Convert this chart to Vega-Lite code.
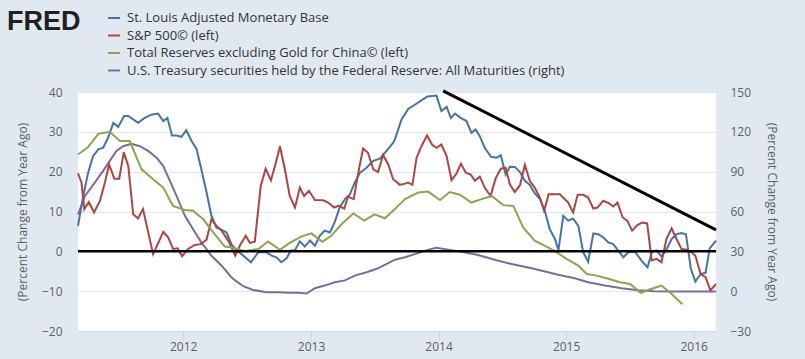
{
  "$schema": "https://vega.github.io/schema/vega-lite/v6.json",
  "width": 638,
  "height": 239,
  "autosize": "none",
  "padding": {"left": 78, "top": 92, "right": 89, "bottom": 28},
  "background": "#e1e9f0",
  "config": {
    "view": {"fill": "#ffffff", "stroke": null},
    "font": "Open Sans"
  },
  "title": {
    "text": "FRED",
    "anchor": "start",
    "frame": "group",
    "font": "Liberation Sans",
    "fontSize": 27,
    "fontWeight": 900,
    "color": "#231f20",
    "dx": -71,
    "offset": -25
  },
  "data": {
    "values": [
      {"date": "2011-03-06", "series": "base", "value": 6.4},
      {"date": "2011-03-21", "series": "base", "value": 13.9},
      {"date": "2011-04-04", "series": "base", "value": 19.75},
      {"date": "2011-04-18", "series": "base", "value": 23.9},
      {"date": "2011-05-03", "series": "base", "value": 25.6},
      {"date": "2011-05-17", "series": "base", "value": 26},
      {"date": "2011-05-31", "series": "base", "value": 28.5},
      {"date": "2011-06-15", "series": "base", "value": 32.25},
      {"date": "2011-06-29", "series": "base", "value": 31.25},
      {"date": "2011-07-16", "series": "base", "value": 34},
      {"date": "2011-07-28", "series": "base", "value": 34},
      {"date": "2011-08-25", "series": "base", "value": 32.25},
      {"date": "2011-09-13", "series": "base", "value": 33.5},
      {"date": "2011-10-02", "series": "base", "value": 34.3},
      {"date": "2011-10-21", "series": "base", "value": 34.6},
      {"date": "2011-11-05", "series": "base", "value": 32.7},
      {"date": "2011-11-17", "series": "base", "value": 33.5},
      {"date": "2011-11-30", "series": "base", "value": 29.1},
      {"date": "2011-12-13", "series": "base", "value": 29.1},
      {"date": "2011-12-27", "series": "base", "value": 28.75},
      {"date": "2012-01-10", "series": "base", "value": 30.4},
      {"date": "2012-01-25", "series": "base", "value": 27.7},
      {"date": "2012-02-08", "series": "base", "value": 25.75},
      {"date": "2012-02-22", "series": "base", "value": 20.6},
      {"date": "2012-03-08", "series": "base", "value": 14.75},
      {"date": "2012-03-22", "series": "base", "value": 8.9},
      {"date": "2012-04-05", "series": "base", "value": 6},
      {"date": "2012-04-20", "series": "base", "value": 5.4},
      {"date": "2012-05-04", "series": "base", "value": 4.75},
      {"date": "2012-05-18", "series": "base", "value": 1.8},
      {"date": "2012-05-29", "series": "base", "value": 0.6},
      {"date": "2012-06-16", "series": "base", "value": -0.7},
      {"date": "2012-07-13", "series": "base", "value": -2.75},
      {"date": "2012-08-03", "series": "base", "value": -0.25},
      {"date": "2012-08-27", "series": "base", "value": -0.25},
      {"date": "2012-09-10", "series": "base", "value": -1.1},
      {"date": "2012-09-24", "series": "base", "value": -1.5},
      {"date": "2012-10-08", "series": "base", "value": -2.75},
      {"date": "2012-10-23", "series": "base", "value": -1.75},
      {"date": "2012-11-04", "series": "base", "value": 0.2},
      {"date": "2012-11-16", "series": "base", "value": 0.3},
      {"date": "2012-11-30", "series": "base", "value": 2.5},
      {"date": "2012-12-14", "series": "base", "value": 1.2},
      {"date": "2012-12-29", "series": "base", "value": 2.7},
      {"date": "2013-01-12", "series": "base", "value": 1.4},
      {"date": "2013-01-26", "series": "base", "value": 3.9},
      {"date": "2013-02-09", "series": "base", "value": 5.2},
      {"date": "2013-02-24", "series": "base", "value": 4.75},
      {"date": "2013-03-10", "series": "base", "value": 7.4},
      {"date": "2013-03-24", "series": "base", "value": 11},
      {"date": "2013-04-08", "series": "base", "value": 13.1},
      {"date": "2013-04-22", "series": "base", "value": 14.3},
      {"date": "2013-05-06", "series": "base", "value": 17.25},
      {"date": "2013-05-21", "series": "base", "value": 19.75},
      {"date": "2013-06-09", "series": "base", "value": 21},
      {"date": "2013-06-28", "series": "base", "value": 22.7},
      {"date": "2013-07-17", "series": "base", "value": 23.25},
      {"date": "2013-08-05", "series": "base", "value": 25.2},
      {"date": "2013-08-24", "series": "base", "value": 27.25},
      {"date": "2013-08-29", "series": "base", "value": 28.1},
      {"date": "2013-09-17", "series": "base", "value": 33.1},
      {"date": "2013-10-06", "series": "base", "value": 35.75},
      {"date": "2013-10-25", "series": "base", "value": 36.8},
      {"date": "2013-11-13", "series": "base", "value": 37.9},
      {"date": "2013-11-30", "series": "base", "value": 38.9},
      {"date": "2013-12-26", "series": "base", "value": 39.1},
      {"date": "2014-01-09", "series": "base", "value": 35.2},
      {"date": "2014-01-24", "series": "base", "value": 36.25},
      {"date": "2014-02-05", "series": "base", "value": 33.5},
      {"date": "2014-02-17", "series": "base", "value": 34.6},
      {"date": "2014-03-05", "series": "base", "value": 33.5},
      {"date": "2014-03-22", "series": "base", "value": 32.7},
      {"date": "2014-04-05", "series": "base", "value": 29.75},
      {"date": "2014-04-17", "series": "base", "value": 30.6},
      {"date": "2014-04-29", "series": "base", "value": 28.9},
      {"date": "2014-05-13", "series": "base", "value": 26},
      {"date": "2014-05-31", "series": "base", "value": 23.75},
      {"date": "2014-06-16", "series": "base", "value": 23.5},
      {"date": "2014-06-28", "series": "base", "value": 24.1},
      {"date": "2014-07-12", "series": "base", "value": 19.3},
      {"date": "2014-07-24", "series": "base", "value": 21.25},
      {"date": "2014-08-07", "series": "base", "value": 21.2},
      {"date": "2014-08-22", "series": "base", "value": 19.9},
      {"date": "2014-09-05", "series": "base", "value": 17.7},
      {"date": "2014-09-19", "series": "base", "value": 16.7},
      {"date": "2014-10-03", "series": "base", "value": 14.6},
      {"date": "2014-10-18", "series": "base", "value": 13.1},
      {"date": "2014-11-01", "series": "base", "value": 10.2},
      {"date": "2014-11-15", "series": "base", "value": 5.6},
      {"date": "2014-11-30", "series": "base", "value": 3.1},
      {"date": "2014-12-10", "series": "base", "value": 0.3},
      {"date": "2014-12-24", "series": "base", "value": 8.9},
      {"date": "2015-01-07", "series": "base", "value": 7.7},
      {"date": "2015-01-21", "series": "base", "value": 8.25},
      {"date": "2015-02-05", "series": "base", "value": 6.4},
      {"date": "2015-02-19", "series": "base", "value": -0.25},
      {"date": "2015-03-05", "series": "base", "value": -2.6},
      {"date": "2015-03-20", "series": "base", "value": 4.5},
      {"date": "2015-04-03", "series": "base", "value": 4.3},
      {"date": "2015-04-17", "series": "base", "value": 3.5},
      {"date": "2015-05-02", "series": "base", "value": 2.25},
      {"date": "2015-05-16", "series": "base", "value": 1.8},
      {"date": "2015-05-30", "series": "base", "value": 0.2},
      {"date": "2015-06-14", "series": "base", "value": -1.5},
      {"date": "2015-06-28", "series": "base", "value": -0.25},
      {"date": "2015-07-17", "series": "base", "value": -0.1},
      {"date": "2015-08-07", "series": "base", "value": -2.6},
      {"date": "2015-08-22", "series": "base", "value": -4},
      {"date": "2015-09-04", "series": "base", "value": -0.1},
      {"date": "2015-09-17", "series": "base", "value": 0.25},
      {"date": "2015-10-01", "series": "base", "value": -1.3},
      {"date": "2015-10-14", "series": "base", "value": 0.3},
      {"date": "2015-10-30", "series": "base", "value": 3.1},
      {"date": "2015-11-13", "series": "base", "value": 4.3},
      {"date": "2015-11-27", "series": "base", "value": 4.6},
      {"date": "2015-12-10", "series": "base", "value": 4.3},
      {"date": "2015-12-24", "series": "base", "value": -4.4},
      {"date": "2016-01-06", "series": "base", "value": -7.6},
      {"date": "2016-01-21", "series": "base", "value": -5.7},
      {"date": "2016-02-04", "series": "base", "value": -5.4},
      {"date": "2016-02-16", "series": "base", "value": 0.75},
      {"date": "2016-03-05", "series": "base", "value": 2.7},

      {"date": "2011-03-06", "series": "sp500", "value": 19.6},
      {"date": "2011-03-16", "series": "sp500", "value": 17.25},
      {"date": "2011-03-24", "series": "sp500", "value": 10.6},
      {"date": "2011-04-06", "series": "sp500", "value": 12.4},
      {"date": "2011-04-21", "series": "sp500", "value": 9.75},
      {"date": "2011-05-08", "series": "sp500", "value": 12.7},
      {"date": "2011-05-22", "series": "sp500", "value": 17.25},
      {"date": "2011-06-03", "series": "sp500", "value": 21.8},
      {"date": "2011-06-18", "series": "sp500", "value": 18.25},
      {"date": "2011-07-02", "series": "sp500", "value": 18.25},
      {"date": "2011-07-15", "series": "sp500", "value": 24.9},
      {"date": "2011-07-28", "series": "sp500", "value": 21.4},
      {"date": "2011-08-11", "series": "sp500", "value": 9.3},
      {"date": "2011-08-25", "series": "sp500", "value": 8.25},
      {"date": "2011-09-08", "series": "sp500", "value": 10.6},
      {"date": "2011-10-07", "series": "sp500", "value": -0.7},
      {"date": "2011-11-05", "series": "sp500", "value": 4.9},
      {"date": "2011-11-19", "series": "sp500", "value": 3.5},
      {"date": "2011-12-03", "series": "sp500", "value": 0.6},
      {"date": "2011-12-16", "series": "sp500", "value": 0.75},
      {"date": "2011-12-29", "series": "sp500", "value": -1.25},
      {"date": "2012-01-15", "series": "sp500", "value": 0.6},
      {"date": "2012-02-03", "series": "sp500", "value": 1.6},
      {"date": "2012-02-20", "series": "sp500", "value": 1.8},
      {"date": "2012-03-08", "series": "sp500", "value": 2.9},
      {"date": "2012-03-22", "series": "sp500", "value": 8.1},
      {"date": "2012-04-05", "series": "sp500", "value": 6.4},
      {"date": "2012-04-20", "series": "sp500", "value": 5.2},
      {"date": "2012-05-09", "series": "sp500", "value": 2.7},
      {"date": "2012-05-29", "series": "sp500", "value": -1.1},
      {"date": "2012-06-11", "series": "sp500", "value": 1.4},
      {"date": "2012-06-28", "series": "sp500", "value": 3.9},
      {"date": "2012-07-10", "series": "sp500", "value": 2.1},
      {"date": "2012-07-24", "series": "sp500", "value": 2.4},
      {"date": "2012-08-10", "series": "sp500", "value": 16.4},
      {"date": "2012-08-24", "series": "sp500", "value": 20.75},
      {"date": "2012-09-08", "series": "sp500", "value": 17.8},
      {"date": "2012-09-21", "series": "sp500", "value": 21.8},
      {"date": "2012-10-04", "series": "sp500", "value": 26.4},
      {"date": "2012-10-18", "series": "sp500", "value": 20.6},
      {"date": "2012-11-01", "series": "sp500", "value": 13.9},
      {"date": "2012-11-16", "series": "sp500", "value": 11},
      {"date": "2012-11-30", "series": "sp500", "value": 16},
      {"date": "2012-12-12", "series": "sp500", "value": 13.9},
      {"date": "2012-12-26", "series": "sp500", "value": 15.2},
      {"date": "2013-01-12", "series": "sp500", "value": 12.9},
      {"date": "2013-02-05", "series": "sp500", "value": 12.8},
      {"date": "2013-02-19", "series": "sp500", "value": 12.25},
      {"date": "2013-03-08", "series": "sp500", "value": 11},
      {"date": "2013-03-21", "series": "sp500", "value": 11.4},
      {"date": "2013-04-06", "series": "sp500", "value": 10.75},
      {"date": "2013-04-17", "series": "sp500", "value": 13.75},
      {"date": "2013-05-03", "series": "sp500", "value": 13.1},
      {"date": "2013-05-18", "series": "sp500", "value": 20.6},
      {"date": "2013-05-30", "series": "sp500", "value": 25.8},
      {"date": "2013-06-13", "series": "sp500", "value": 24.75},
      {"date": "2013-06-28", "series": "sp500", "value": 20.6},
      {"date": "2013-07-12", "series": "sp500", "value": 19.9},
      {"date": "2013-07-26", "series": "sp500", "value": 24.2},
      {"date": "2013-08-10", "series": "sp500", "value": 21.8},
      {"date": "2013-08-24", "series": "sp500", "value": 18.1},
      {"date": "2013-08-29", "series": "sp500", "value": 17.8},
      {"date": "2013-09-12", "series": "sp500", "value": 16.7},
      {"date": "2013-09-27", "series": "sp500", "value": 17},
      {"date": "2013-10-06", "series": "sp500", "value": 17.25},
      {"date": "2013-10-18", "series": "sp500", "value": 16.7},
      {"date": "2013-10-30", "series": "sp500", "value": 23.5},
      {"date": "2013-11-13", "series": "sp500", "value": 26.4},
      {"date": "2013-11-29", "series": "sp500", "value": 29.1},
      {"date": "2013-12-14", "series": "sp500", "value": 26.7},
      {"date": "2013-12-26", "series": "sp500", "value": 26},
      {"date": "2014-01-09", "series": "sp500", "value": 26.8},
      {"date": "2014-01-24", "series": "sp500", "value": 23.9},
      {"date": "2014-02-07", "series": "sp500", "value": 17.9},
      {"date": "2014-02-21", "series": "sp500", "value": 19.5},
      {"date": "2014-03-06", "series": "sp500", "value": 22},
      {"date": "2014-03-20", "series": "sp500", "value": 19.75},
      {"date": "2014-04-03", "series": "sp500", "value": 19.3},
      {"date": "2014-04-15", "series": "sp500", "value": 17.7},
      {"date": "2014-04-29", "series": "sp500", "value": 18.75},
      {"date": "2014-05-13", "series": "sp500", "value": 16},
      {"date": "2014-05-30", "series": "sp500", "value": 13.9},
      {"date": "2014-06-13", "series": "sp500", "value": 18.25},
      {"date": "2014-06-28", "series": "sp500", "value": 20.75},
      {"date": "2014-07-12", "series": "sp500", "value": 21},
      {"date": "2014-07-24", "series": "sp500", "value": 16.8},
      {"date": "2014-08-07", "series": "sp500", "value": 14.9},
      {"date": "2014-08-22", "series": "sp500", "value": 16.6},
      {"date": "2014-09-05", "series": "sp500", "value": 21.7},
      {"date": "2014-09-19", "series": "sp500", "value": 17.7},
      {"date": "2014-10-03", "series": "sp500", "value": 16},
      {"date": "2014-10-18", "series": "sp500", "value": 13.5},
      {"date": "2014-10-30", "series": "sp500", "value": 10.2},
      {"date": "2014-11-12", "series": "sp500", "value": 14.3},
      {"date": "2014-11-28", "series": "sp500", "value": 14.3},
      {"date": "2014-12-14", "series": "sp500", "value": 14.3},
      {"date": "2015-01-07", "series": "sp500", "value": 12.25},
      {"date": "2015-01-21", "series": "sp500", "value": 9.75},
      {"date": "2015-02-03", "series": "sp500", "value": 14.2},
      {"date": "2015-02-19", "series": "sp500", "value": 14.2},
      {"date": "2015-03-05", "series": "sp500", "value": 13.5},
      {"date": "2015-03-20", "series": "sp500", "value": 10.75},
      {"date": "2015-04-01", "series": "sp500", "value": 11},
      {"date": "2015-04-17", "series": "sp500", "value": 12.7},
      {"date": "2015-05-03", "series": "sp500", "value": 12.1},
      {"date": "2015-05-16", "series": "sp500", "value": 11.25},
      {"date": "2015-05-28", "series": "sp500", "value": 12.25},
      {"date": "2015-06-12", "series": "sp500", "value": 8.5},
      {"date": "2015-06-25", "series": "sp500", "value": 7.7},
      {"date": "2015-07-09", "series": "sp500", "value": 5.2},
      {"date": "2015-07-24", "series": "sp500", "value": 6.6},
      {"date": "2015-08-07", "series": "sp500", "value": 7.25},
      {"date": "2015-08-21", "series": "sp500", "value": 7},
      {"date": "2015-09-03", "series": "sp500", "value": -2.3},
      {"date": "2015-09-17", "series": "sp500", "value": -1.9},
      {"date": "2015-10-01", "series": "sp500", "value": -2.75},
      {"date": "2015-10-15", "series": "sp500", "value": 3.1},
      {"date": "2015-10-30", "series": "sp500", "value": 5.75},
      {"date": "2015-11-13", "series": "sp500", "value": 3.1},
      {"date": "2015-11-27", "series": "sp500", "value": 0.6},
      {"date": "2015-12-12", "series": "sp500", "value": 0.4},
      {"date": "2015-12-26", "series": "sp500", "value": -0.25},
      {"date": "2016-01-06", "series": "sp500", "value": -1.1},
      {"date": "2016-01-21", "series": "sp500", "value": -5.7},
      {"date": "2016-02-04", "series": "sp500", "value": -6.5},
      {"date": "2016-02-18", "series": "sp500", "value": -9.8},
      {"date": "2016-03-05", "series": "sp500", "value": -8.2},

      {"date": "2011-03-06", "series": "china", "value": 24.3},
      {"date": "2011-04-04", "series": "china", "value": 26.2},
      {"date": "2011-05-03", "series": "china", "value": 29.5},
      {"date": "2011-06-05", "series": "china", "value": 30},
      {"date": "2011-07-04", "series": "china", "value": 27.7},
      {"date": "2011-08-01", "series": "china", "value": 27.7},
      {"date": "2011-09-04", "series": "china", "value": 20.6},
      {"date": "2011-10-07", "series": "china", "value": 18.1},
      {"date": "2011-11-05", "series": "china", "value": 16},
      {"date": "2011-12-03", "series": "china", "value": 11.4},
      {"date": "2012-01-06", "series": "china", "value": 10.4},
      {"date": "2012-01-29", "series": "china", "value": 10.2},
      {"date": "2012-02-27", "series": "china", "value": 8.1},
      {"date": "2012-03-27", "series": "china", "value": 4.75},
      {"date": "2012-04-29", "series": "china", "value": 1.2},
      {"date": "2012-05-18", "series": "china", "value": 1},
      {"date": "2012-06-26", "series": "china", "value": 0},
      {"date": "2012-08-03", "series": "china", "value": 0.6},
      {"date": "2012-08-31", "series": "china", "value": 2.5},
      {"date": "2012-10-04", "series": "china", "value": 0.4},
      {"date": "2012-11-01", "series": "china", "value": 2.1},
      {"date": "2012-12-05", "series": "china", "value": 3.75},
      {"date": "2013-01-02", "series": "china", "value": 4.5},
      {"date": "2013-02-02", "series": "china", "value": 2.4},
      {"date": "2013-02-28", "series": "china", "value": 3.9},
      {"date": "2013-03-29", "series": "china", "value": 6.8},
      {"date": "2013-05-02", "series": "china", "value": 9.5},
      {"date": "2013-06-02", "series": "china", "value": 7.7},
      {"date": "2013-07-02", "series": "china", "value": 9.3},
      {"date": "2013-07-31", "series": "china", "value": 8.3},
      {"date": "2013-08-29", "series": "china", "value": 10.6},
      {"date": "2013-09-27", "series": "china", "value": 13.1},
      {"date": "2013-11-04", "series": "china", "value": 14.75},
      {"date": "2013-12-02", "series": "china", "value": 15},
      {"date": "2014-01-05", "series": "china", "value": 12.9},
      {"date": "2014-02-02", "series": "china", "value": 14.9},
      {"date": "2014-03-03", "series": "china", "value": 14.2},
      {"date": "2014-04-05", "series": "china", "value": 12.25},
      {"date": "2014-05-04", "series": "china", "value": 13.1},
      {"date": "2014-06-02", "series": "china", "value": 13.9},
      {"date": "2014-07-05", "series": "china", "value": 11.6},
      {"date": "2014-08-03", "series": "china", "value": 11.4},
      {"date": "2014-08-31", "series": "china", "value": 6},
      {"date": "2014-10-03", "series": "china", "value": 2.7},
      {"date": "2014-11-06", "series": "china", "value": 1.2},
      {"date": "2014-12-01", "series": "china", "value": 0},
      {"date": "2015-01-02", "series": "china", "value": -1.9},
      {"date": "2015-02-05", "series": "china", "value": -3.6},
      {"date": "2015-03-01", "series": "china", "value": -5.7},
      {"date": "2015-03-29", "series": "china", "value": -6.1},
      {"date": "2015-05-02", "series": "china", "value": -6.9},
      {"date": "2015-06-04", "series": "china", "value": -7.75},
      {"date": "2015-07-03", "series": "china", "value": -8.2},
      {"date": "2015-08-03", "series": "china", "value": -10.4},
      {"date": "2015-09-03", "series": "china", "value": -9.4},
      {"date": "2015-10-01", "series": "china", "value": -8.6},
      {"date": "2015-10-30", "series": "china", "value": -10.7},
      {"date": "2015-11-30", "series": "china", "value": -13.3},

      {"date": "2011-03-06", "series": "treasury", "value": 57.9},
      {"date": "2011-03-26", "series": "treasury", "value": 71.7},
      {"date": "2011-04-23", "series": "treasury", "value": 81.75},
      {"date": "2011-05-17", "series": "treasury", "value": 90.6},
      {"date": "2011-06-05", "series": "treasury", "value": 98.1},
      {"date": "2011-06-24", "series": "treasury", "value": 105.6},
      {"date": "2011-07-13", "series": "treasury", "value": 109.2},
      {"date": "2011-08-06", "series": "treasury", "value": 111},
      {"date": "2011-08-30", "series": "treasury", "value": 109.2},
      {"date": "2011-09-23", "series": "treasury", "value": 105.6},
      {"date": "2011-10-17", "series": "treasury", "value": 100.5},
      {"date": "2011-11-05", "series": "treasury", "value": 94.2},
      {"date": "2011-11-24", "series": "treasury", "value": 83.1},
      {"date": "2011-12-13", "series": "treasury", "value": 71.7},
      {"date": "2012-01-06", "series": "treasury", "value": 56.7},
      {"date": "2012-01-29", "series": "treasury", "value": 46.8},
      {"date": "2012-02-22", "series": "treasury", "value": 36.75},
      {"date": "2012-03-22", "series": "treasury", "value": 26.7},
      {"date": "2012-04-20", "series": "treasury", "value": 19.2},
      {"date": "2012-05-18", "series": "treasury", "value": 10.5},
      {"date": "2012-05-29", "series": "treasury", "value": 8.1},
      {"date": "2012-06-21", "series": "treasury", "value": 3.75},
      {"date": "2012-07-19", "series": "treasury", "value": 0.9},
      {"date": "2012-08-27", "series": "treasury", "value": -0.75},
      {"date": "2012-09-29", "series": "treasury", "value": -0.75},
      {"date": "2012-10-28", "series": "treasury", "value": -1.2},
      {"date": "2012-11-25", "series": "treasury", "value": -1.2},
      {"date": "2012-12-19", "series": "treasury", "value": -1.8},
      {"date": "2013-01-12", "series": "treasury", "value": 2.25},
      {"date": "2013-02-09", "series": "treasury", "value": 4.2},
      {"date": "2013-03-10", "series": "treasury", "value": 6.75},
      {"date": "2013-04-08", "series": "treasury", "value": 8.1},
      {"date": "2013-05-06", "series": "treasury", "value": 11.7},
      {"date": "2013-06-09", "series": "treasury", "value": 14.25},
      {"date": "2013-07-12", "series": "treasury", "value": 17.25},
      {"date": "2013-08-14", "series": "treasury", "value": 21.75},
      {"date": "2013-08-29", "series": "treasury", "value": 23.7},
      {"date": "2013-09-27", "series": "treasury", "value": 25.5},
      {"date": "2013-10-25", "series": "treasury", "value": 27.9},
      {"date": "2013-11-28", "series": "treasury", "value": 30.9},
      {"date": "2013-12-26", "series": "treasury", "value": 32.7},
      {"date": "2014-01-29", "series": "treasury", "value": 31.2},
      {"date": "2014-03-08", "series": "treasury", "value": 29.7},
      {"date": "2014-04-24", "series": "treasury", "value": 27.3},
      {"date": "2014-06-11", "series": "treasury", "value": 23.7},
      {"date": "2014-07-29", "series": "treasury", "value": 20.4},
      {"date": "2014-09-24", "series": "treasury", "value": 17.25},
      {"date": "2014-11-11", "series": "treasury", "value": 14.25},
      {"date": "2014-11-30", "series": "treasury", "value": 12.9},
      {"date": "2014-12-29", "series": "treasury", "value": 11.25},
      {"date": "2015-01-26", "series": "treasury", "value": 9.75},
      {"date": "2015-03-05", "series": "treasury", "value": 6.75},
      {"date": "2015-04-22", "series": "treasury", "value": 4.2},
      {"date": "2015-06-09", "series": "treasury", "value": 2.25},
      {"date": "2015-07-26", "series": "treasury", "value": 0.75},
      {"date": "2015-09-12", "series": "treasury", "value": 0},
      {"date": "2015-10-30", "series": "treasury", "value": -0.2},
      {"date": "2015-12-16", "series": "treasury", "value": -0.2},
      {"date": "2016-03-05", "series": "treasury", "value": -0.2},

      {"date": "2014-01-14", "series": "trend", "value": 40.3},
      {"date": "2016-03-05", "series": "trend", "value": 5.4},
      {"date": "2011-03-06", "series": "zero", "value": 0},
      {"date": "2016-03-05", "series": "zero", "value": 0}
    ]
  },
  "layer": [
    {
      "transform": [{"filter": "datum.series === 'treasury'"}],
      "mark": {"type": "line", "strokeWidth": 2},
      "encoding": {
        "x": {"field": "date", "type": "temporal"},
        "y": {
          "field": "value", "type": "quantitative",
          "scale": {"domain": [-30, 150], "nice": false, "zero": false},
          "axis": {
            "orient": "right",
            "values": [-30, 0, 30, 60, 90, 120, 150],
            "title": "(Percent Change from Year Ago)",
            "grid": false, "domain": false, "ticks": false,
            "labelPadding": 14, "titlePadding": 14,
            "labelFontSize": 12, "titleFontSize": 12, "titleFontWeight": "normal",
            "labelColor": "#606060", "titleColor": "#606060",
            "labelFont": "Open Sans", "titleFont": "Open Sans"
          }
        },
        "color": {"field": "series", "type": "nominal"}
      }
    },
    {
      "encoding": {
        "x": {
          "field": "date", "type": "temporal",
          "scale": {"type": "utc", "domain": [{"year": 2011, "month": 3, "date": 6, "utc": true}, {"year": 2016, "month": 3, "date": 5, "utc": true}]},
          "axis": {
            "values": [
              {"year": 2012, "month": 1, "date": 1, "utc": true},
              {"year": 2013, "month": 1, "date": 1, "utc": true},
              {"year": 2014, "month": 1, "date": 1, "utc": true},
              {"year": 2015, "month": 1, "date": 1, "utc": true},
              {"year": 2016, "month": 1, "date": 1, "utc": true}
            ],
            "format": "%Y", "title": null, "grid": false,
            "domainColor": "#ccd6eb", "tickColor": "#ccd6eb", "tickSize": 8,
            "labelPadding": 2, "labelFontSize": 12, "labelColor": "#606060", "labelFont": "Open Sans"
          }
        },
        "y": {
          "field": "value", "type": "quantitative",
          "scale": {"domain": [-20, 40], "nice": false, "zero": false},
          "axis": {
            "orient": "left",
            "values": [-20, -10, 0, 10, 20, 30, 40],
            "title": "(Percent Change from Year Ago)",
            "grid": true, "gridColor": "#e6e6e6", "domain": false, "ticks": false,
            "labelPadding": 16, "titlePadding": 12, "labelOverlap": false,
            "labelFontSize": 12, "titleFontSize": 12, "titleFontWeight": "normal",
            "labelColor": "#606060", "titleColor": "#606060",
            "labelFont": "Open Sans", "titleFont": "Open Sans"
          }
        }
      },
      "layer": [
        {
          "transform": [{"filter": "datum.series === 'base' || datum.series === 'sp500' || datum.series === 'china'"}],
          "mark": {"type": "line", "strokeWidth": 2},
          "encoding": {
            "color": {
              "field": "series", "type": "nominal",
              "scale": {
                "domain": ["base", "sp500", "china", "treasury"],
                "range": ["#4572a7", "#aa4643", "#89a54e", "#80699b"]
              },
              "legend": {
                "orient": "none", "legendX": 29, "legendY": -81,
                "direction": "vertical", "title": null,
                "symbolType": "stroke", "symbolSize": 144, "symbolStrokeWidth": 2,
                "labelFontSize": 13, "labelFont": "Open Sans", "labelColor": "#333333",
                "labelLimit": 700, "rowPadding": 3.5, "labelOffset": 6,
                "labelExpr": "{'base': 'St. Louis Adjusted Monetary Base', 'sp500': 'S&P 500© (left)', 'china': 'Total Reserves excluding Gold for China© (left)', 'treasury': 'U.S. Treasury securities held by the Federal Reserve: All Maturities (right)'}[datum.label]"
              }
            }
          }
        },
        {
          "transform": [{"filter": "datum.series === 'zero'"}],
          "mark": {"type": "line", "color": "#000000", "strokeWidth": 2.5}
        },
        {
          "transform": [{"filter": "datum.series === 'trend'"}],
          "mark": {"type": "line", "color": "#000000", "strokeWidth": 3, "clip": false}
        }
      ]
    }
  ],
  "resolve": {"scale": {"y": "independent"}, "axis": {"y": "independent"}}
}
